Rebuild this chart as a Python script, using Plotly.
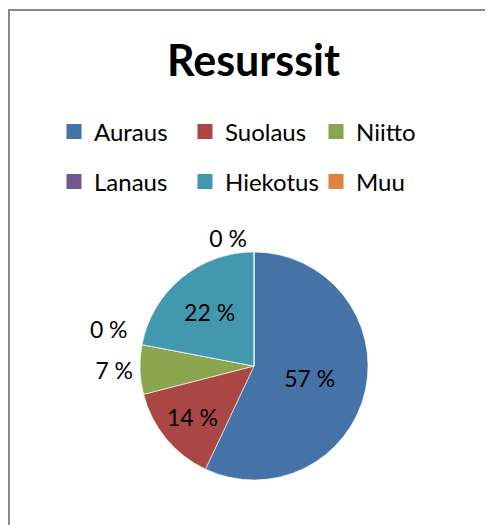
import plotly.graph_objects as go

categories = ["Auraus", "Suolaus", "Niitto", "Lanaus", "Hiekotus", "Muu"]
values = [57, 14, 7, 0, 22, 0]
colors = ["#4572A7", "#AA4643", "#89A54E", "#71588F", "#4198AF", "#DB843D"]
# labels drawn by the main pie; the "Lanaus" label is drawn by a transparent twin pie
main_positions = ["inside", "inside", "outside", "none", "inside", "outside"]
twin_positions = ["none", "none", "none", "outside", "none", "none"]
legend_rows = ["legend", "legend", "legend", "legend2", "legend2", "legend2"]

FONT = "Lato, 'Open Sans', sans-serif"
W, H = 493, 525
pie_domain = dict(x=[132 / W, 360 / W], y=[1 - 472 / H, 1 - 244 / H])
label_font = dict(family=FONT, size=23, color="#000000")

fig = go.Figure()
fig.add_trace(go.Pie(
    labels=categories,
    values=values,
    sort=False,
    direction="clockwise",
    rotation=0,
    marker=dict(colors=colors, line=dict(color="rgba(255,255,255,0.6)", width=1)),
    texttemplate="%{value} %",
    textposition=main_positions,
    textfont=label_font,
    insidetextorientation="horizontal",
    domain=pie_domain,
    showlegend=False,
    hoverinfo="label+value",
))
fig.add_trace(go.Pie(
    labels=categories,
    values=values,
    sort=False,
    direction="clockwise",
    rotation=0,
    marker=dict(colors=["rgba(0,0,0,0)"] * len(values), line=dict(width=0)),
    texttemplate="%{value} %<br> ",
    textposition=twin_positions,
    textfont=label_font,
    domain=pie_domain,
    showlegend=False,
    hoverinfo="skip",
))

# legend entries (two rows, as in the original)
for name, col, lg in zip(categories, colors, legend_rows):
    fig.add_trace(go.Scatter(x=[None], y=[None], mode="markers", name=name, legend=lg,
                             marker=dict(symbol="square", size=15, color=col),
                             hoverinfo="skip"))

legend_common = dict(orientation="h", xanchor="left", yanchor="middle",
                     entrywidth=86, entrywidthmode="pixels", itemwidth=30,
                     font=dict(family=FONT, size=24, color="#000000"),
                     bgcolor="rgba(0,0,0,0)", itemclick=False, itemdoubleclick=False)

fig.update_layout(
    width=W,
    height=H,
    margin=dict(l=0, r=0, t=0, b=0),
    paper_bgcolor="white",
    plot_bgcolor="white",
    font=dict(family=FONT, color="#000000"),
    xaxis=dict(visible=False),
    yaxis=dict(visible=False),
    title=dict(text="<b>Resurssit</b>", x=245.5 / W, xanchor="center", y=1 - 53 / H, yanchor="middle",
               font=dict(family=FONT, size=43, color="#000000")),
    legend=dict(x=46 / W, y=1 - 124 / H, **legend_common),
    legend2=dict(x=46 / W, y=1 - 174 / H, **legend_common),
    shapes=[dict(type="rect", xref="paper", yref="paper", x0=1 / W, x1=1.1, y0=-0.1, y1=1 - 2 / H,
                 line=dict(color="#888888", width=2), fillcolor="rgba(0,0,0,0)", layer="below")],
)

fig.write_html("out.html")
